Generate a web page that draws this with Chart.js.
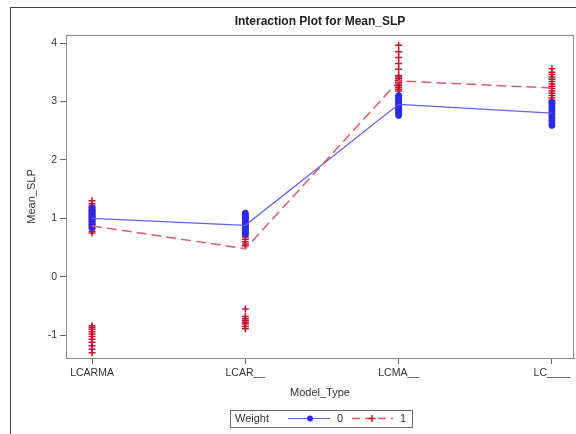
<!DOCTYPE html>
<html>
<head>
<meta charset="utf-8">
<script src="https://cdn.jsdelivr.net/npm/chart.js@4"></script>
<style>
  body { margin: 0; background: #fff; }
  canvas { display: block; }
</style>
</head>
<body>
<canvas id="cntx_interaction" width="576" height="434"></canvas>
<script>
// model types along the x axis
const model_types = ["LCARMA", "LCAR__", "LCMA__", "LC____"];
const y_ticks = [-1, 0, 1, 2, 3, 4];

// mean Mean_SLP per model type, one list per Weight level
const mean_w0 = [1.0, 0.88, 2.95, 2.80];
const mean_w1 = [0.87, 0.48, 3.35, 3.23];

// individual Mean_SLP values, Weight = 0
const obs_w0 = [
	[0.84, 0.87, 0.9, 0.92, 0.95, 0.97, 0.99, 1.01, 1.03, 1.05, 1.07, 1.09, 1.11, 1.13, 1.15, 1.18],
	[0.73, 0.76, 0.79, 0.82, 0.85, 0.88, 0.9, 0.93, 0.96, 0.99, 1.02, 1.05, 1.09],
	[2.76, 2.8, 2.83, 2.86, 2.89, 2.92, 2.95, 2.98, 3.01, 3.04, 3.07, 3.1],
	[2.59, 2.63, 2.67, 2.71, 2.75, 2.79, 2.83, 2.87, 2.91, 2.95, 2.98],
];

// individual Mean_SLP values, Weight = 1
const obs_w1 = [
	[0.75, 0.78, 0.82, 0.86, 0.9, 0.94, 0.98, 1.02, 1.06, 1.1, 1.14, 1.18, 1.21, 1.25, 1.3,
	 -0.84, -0.87, -0.9, -0.94, -0.98, -1.02, -1.07, -1.12, -1.18, -1.24, -1.3],
	[0.53, 0.56, 0.6, 0.64, 0.68, 0.72,
	 -0.55, -0.68, -0.72, -0.75, -0.78, -0.81, -0.85, -0.89],
	[3.18, 3.21, 3.24, 3.27, 3.3, 3.33, 3.36, 3.39, 3.42, 3.44, 3.55, 3.65, 3.75, 3.85, 3.96],
	[2.98, 3.02, 3.06, 3.1, 3.14, 3.18, 3.22, 3.26, 3.3, 3.34, 3.38, 3.42, 3.46, 3.5, 3.56],
];

const blue = "#2a2ae8";
const blue_line = "#6060f0";
const red = "#c8102e";
const red_line = "#e05a6a";
const font_family = "'Liberation Sans', Arial, sans-serif";

toPoints = (lists) => {
	let pts = [];
	lists.forEach((vals, i) => vals.forEach((v) => pts.push({ x: i, y: v })));
	return pts;
};
toLine = (means) => means.map((v, i) => ({ x: i, y: v }));

// frame, title and the Weight legend box
const decorations = {
	id: "decorations",
	afterDraw(chart) {
		const ctx = chart.ctx;
		const area = chart.chartArea;
		ctx.save();
		ctx.strokeStyle = "#8a8a8a";
		ctx.lineWidth = 1;
		ctx.strokeRect(area.left + 0.5, area.top + 0.5, area.right - area.left - 1, area.bottom - area.top);
		ctx.strokeStyle = "#444";
		ctx.strokeRect(10.5, 7.5, 600, 500);

		ctx.fillStyle = "#222";
		ctx.font = "bold 12px " + font_family;
		ctx.textAlign = "center";
		ctx.textBaseline = "middle";
		ctx.fillText("Interaction Plot for Mean_SLP", (area.left + area.right) / 2, 22);

		// legend
		const ly = 418.5;
		ctx.strokeStyle = "#666";
		ctx.strokeRect(230.5, 410.5, 182, 17);
		ctx.font = "11px " + font_family;
		ctx.textAlign = "left";
		ctx.fillStyle = "#333";
		ctx.fillText("Weight", 235, ly);

		ctx.strokeStyle = blue_line;
		ctx.beginPath();
		ctx.moveTo(288, ly);
		ctx.lineTo(330, ly);
		ctx.stroke();
		ctx.fillStyle = blue;
		ctx.beginPath();
		ctx.arc(310, ly, 3, 0, Math.PI * 2);
		ctx.fill();
		ctx.fillStyle = "#333";
		ctx.fillText("0", 337, ly);

		ctx.strokeStyle = red_line;
		ctx.lineWidth = 1.5;
		ctx.setLineDash([8, 5]);
		ctx.beginPath();
		ctx.moveTo(352, ly);
		ctx.lineTo(393, ly);
		ctx.stroke();
		ctx.setLineDash([]);
		ctx.strokeStyle = red;
		ctx.beginPath();
		ctx.moveTo(368.5, ly);
		ctx.lineTo(375.5, ly);
		ctx.moveTo(372, ly - 3.5);
		ctx.lineTo(372, ly + 3.5);
		ctx.stroke();
		ctx.fillStyle = "#333";
		ctx.fillText("1", 400, ly);
		ctx.restore();
	},
};

const whiteBg = {
	id: "whiteBg",
	beforeDraw(chart) {
		const ctx = chart.ctx;
		ctx.save();
		ctx.fillStyle = "#fff";
		ctx.fillRect(0, 0, chart.width, chart.height);
		ctx.restore();
	},
};

const canvas = document.querySelector("#cntx_interaction");
const myChart = new Chart(canvas, {
	type: "scatter",
	data: {
		datasets: [
			{
				label: "1",
				data: toPoints(obs_w1),
				pointStyle: "cross",
				pointRadius: 3.5,
				borderColor: red,
				borderWidth: 1.5,
				order: 4,
			},
			{
				label: "0",
				data: toPoints(obs_w0),
				pointStyle: "circle",
				pointRadius: 3,
				backgroundColor: blue,
				borderColor: blue,
				borderWidth: 1,
				order: 3,
			},
			{
				label: "mean 0",
				type: "line",
				data: toLine(mean_w0),
				borderColor: blue_line,
				borderWidth: 1.2,
				pointRadius: 0,
				order: 2,
			},
			{
				label: "mean 1",
				type: "line",
				data: toLine(mean_w1),
				borderColor: red_line,
				borderWidth: 1.5,
				borderDash: [10, 5],
				pointRadius: 0,
				order: 1,
			},
		],
	},
	options: {
		responsive: false,
		animation: false,
		layout: { autoPadding: false, padding: { left: 10, top: 35, right: 2, bottom: 31 } },
		plugins: {
			legend: { display: false },
			tooltip: { enabled: false },
		},
		scales: {
			x: {
				type: "linear",
				min: -0.17,
				max: 3.144,
				afterFit: (s) => { s.height = 45; },
				afterBuildTicks: (s) => { s.ticks = model_types.map((m, i) => ({ value: i })); },
				grid: { drawOnChartArea: false, drawTicks: true, tickLength: 6, color: "#666" },
				border: { color: "#8a8a8a" },
				ticks: {
					padding: 3,
					color: "#333",
					font: { family: font_family, size: 10.5 },
					callback: (v) => model_types[v],
				},
				title: {
					display: true,
					text: "Model_Type",
					color: "#333",
					font: { family: font_family, size: 11 },
					padding: { top: 0, bottom: 3.4 },
				},
			},
			y: {
				min: -1.39,
				max: 4.137,
				afterFit: (s) => { s.width = 56; },
				afterBuildTicks: (s) => { s.ticks = y_ticks.map((v) => ({ value: v })); },
				grid: { drawOnChartArea: false, drawTicks: true, tickLength: 6, color: "#666" },
				border: { color: "#8a8a8a" },
				ticks: {
					padding: 3,
					color: "#333",
					font: { family: font_family, size: 10.5 },
				},
				title: {
					display: true,
					text: "Mean_SLP",
					color: "#333",
					font: { family: font_family, size: 11 },
					padding: { top: 15.4, bottom: 0 },
				},
			},
		},
	},
	plugins: [whiteBg, decorations],
});
</script>
</body>
</html>
